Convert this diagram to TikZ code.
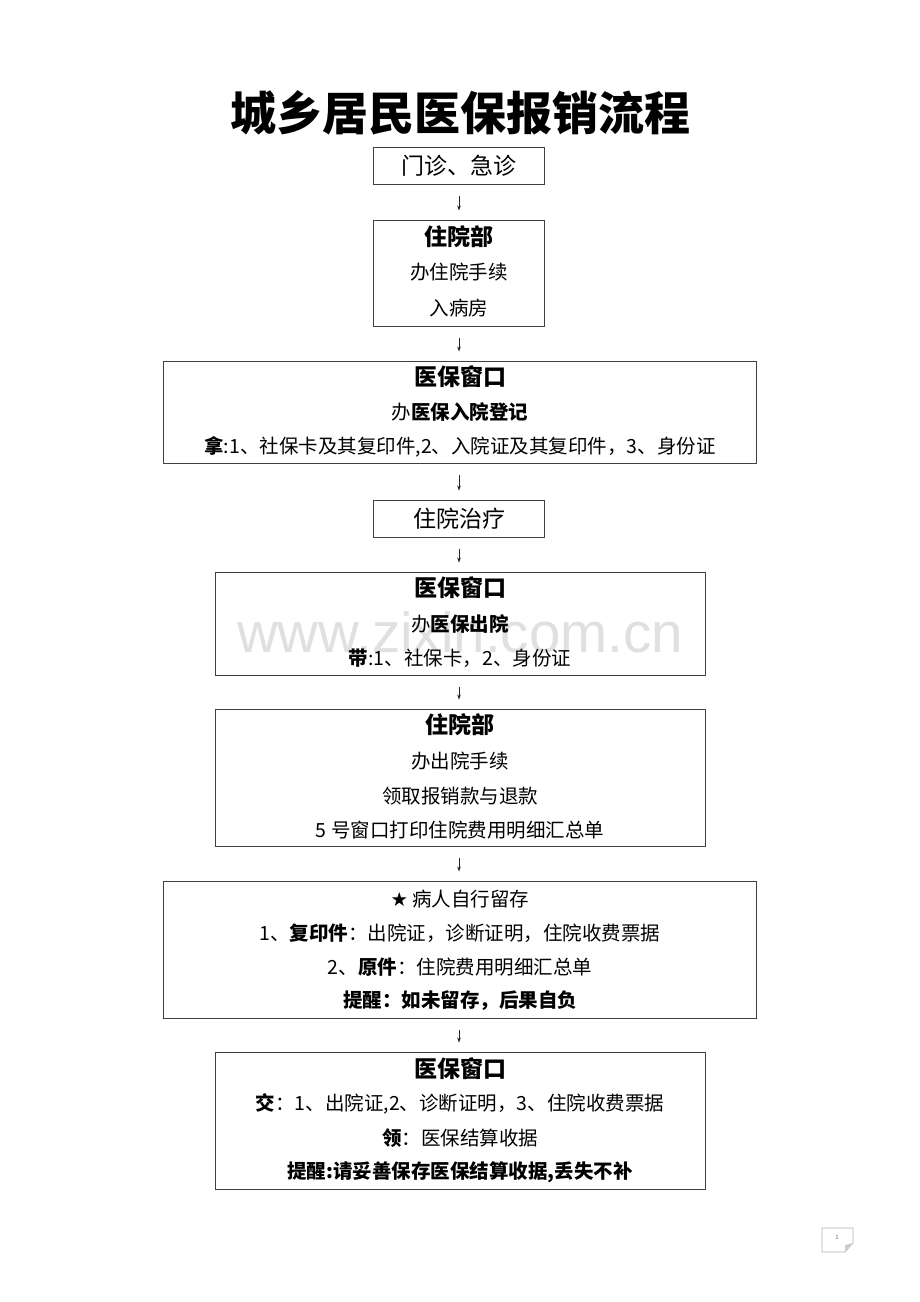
\documentclass[tikz,border=0pt]{standalone}
\usepackage{fontspec}
\setmainfont{Noto Sans CJK SC}
\newfontfamily\heavyfont{Noto Sans CJK SC Black}
\newfontfamily\symfont{DejaVu Sans}
\newfontfamily\wmfont{Liberation Sans}
\usetikzlibrary{arrows.meta}
\begin{document}
\begin{tikzpicture}[x=1pt,y=-1pt,
  flowbox/.style={draw=black!75, line width=1pt, inner sep=0pt, fill=none},
  txt/.style={inner sep=0pt, font=\fontsize{19.5}{22}\selectfont},
  hdr/.style={inner sep=0pt, font=\heavyfont\fontsize{23}{26}\selectfont},
  big/.style={inner sep=0pt, font=\fontsize{23}{26}\selectfont},
  arr/.style={-{Stealth[length=5pt,width=3.6pt]}, line width=0.6pt, black!85, shorten <=11pt, shorten >=9pt}]
\useasboundingbox (0,0) rectangle (920,1302);
\fill[white] (0,0) rectangle (920,1302);

% watermark
\node[inner sep=0pt, anchor=base, text=black!12, font=\wmfont\fontsize{56.5}{60}\selectfont] (wm) at (460,652) {www.zixin.com.cn};

% title
\node[inner sep=0pt, font=\fontsize{46}{50}\selectfont\bfseries] (title) at (460,113) {城乡居民医保报销流程};

% boxes
\node[flowbox, minimum width=171pt, minimum height=37pt] (b1) at (458.5,165.5) {};
\node[flowbox, minimum width=171pt, minimum height=106pt] (b2) at (458.5,273) {};
\node[flowbox, minimum width=593pt, minimum height=102pt] (b3) at (459.5,412) {};
\node[flowbox, minimum width=171pt, minimum height=37pt] (b4) at (458.5,518.5) {};
\node[flowbox, minimum width=490pt, minimum height=103pt] (b5) at (460,623.5) {};
\node[flowbox, minimum width=490pt, minimum height=137pt] (b6) at (460,777.5) {};
\node[flowbox, minimum width=593pt, minimum height=137pt] (b7) at (459.5,949.5) {};
\node[flowbox, minimum width=490pt, minimum height=137pt] (b8) at (460,1120.5) {};

% box 1
\node[big] (t1) at (459,166) {门诊、急诊};
% box 2
\node[hdr] (t2a) at (459,237) {住院部};
\node[txt] (t2b) at (459,272) {办住院手续};
\node[txt] (t2c) at (459,308) {入病房};
% box 3
\node[hdr] (t3a) at (460,377) {医保窗口};
\node[txt] (t3b) at (460,412) {办{\bfseries 医保入院登记}};
\node[txt] (t3c) at (460,447) {{\bfseries 拿}:1、社保卡及其复印件,2、入院证及其复印件，3、身份证};
% box 4
\node[big] (t4) at (459,519) {住院治疗};
% box 5
\node[hdr] (t5a) at (460,588) {医保窗口};
\node[txt] (t5b) at (460,624) {办{\bfseries 医保出院}};
\node[txt] (t5c) at (460,658) {{\bfseries 带}:1、社保卡，2、身份证};
% box 6
\node[hdr] (t6a) at (460,725) {住院部};
\node[txt] (t6b) at (460,761) {办出院手续};
\node[txt] (t6c) at (460,796) {领取报销款与退款};
\node[txt] (t6d) at (460,830) {5 号窗口打印住院费用明细汇总单};
% box 7
\node[txt] (t7a) at (460,899) {{\symfont ★} 病人自行留存};
\node[txt] (t7b) at (460,933) {1、{\bfseries 复印件}：出院证，诊断证明，住院收费票据};
\node[txt] (t7c) at (460,967) {2、{\bfseries 原件}：住院费用明细汇总单};
\node[txt] (t7d) at (460,1001) {{\bfseries 提醒：如未留存，后果自负}};
% box 8
\node[hdr] (t8a) at (460,1069) {医保窗口};
\node[txt] (t8b) at (460,1104) {{\bfseries 交}：1、出院证,2、诊断证明，3、住院收费票据};
\node[txt] (t8c) at (460,1138) {{\bfseries 领}：医保结算收据};
\node[txt] (t8d) at (460,1172) {{\bfseries 提醒:请妥善保存医保结算收据,丢失不补}};

% arrows
\draw[arr] (b1.south -| 459,0) -- (b2.north -| 459,0);
\draw[arr] (b2.south -| 459,0) -- (b3.north -| 459,0);
\draw[arr] (b3.south -| 459,0) -- (b4.north -| 459,0);
\draw[arr] (b4.south -| 459,0) -- (b5.north -| 459,0);
\draw[arr] (b5.south -| 459,0) -- (b6.north -| 459,0);
\draw[arr] (b6.south -| 459,0) -- (b7.north -| 459,0);
\draw[arr] (b7.south -| 459,0) -- (b8.north -| 459,0);

% page marker
\draw[black!30, line width=0.6pt] (822,1228) -- (853,1228) -- (853,1243) -- (845,1252) -- (822,1252) -- cycle;
\fill[black!20] (853,1243) -- (845,1245) -- (845,1252) -- cycle;
\node[inner sep=0pt, text=black!60, font=\fontsize{6}{7}\selectfont] (pg) at (837,1237) {1};
\end{tikzpicture}
\end{document}
